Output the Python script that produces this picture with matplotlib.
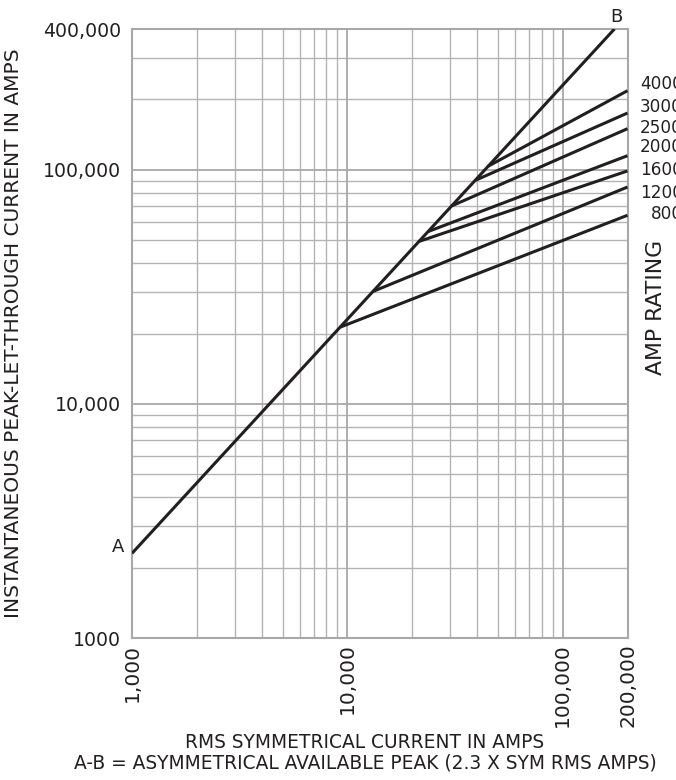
import matplotlib
matplotlib.use("Agg")
import matplotlib.pyplot as plt
import matplotlib.ticker as mticker
from matplotlib.transforms import blended_transform_factory, ScaledTranslation

plt.rcParams['font.family'] = ['DejaVu Sans']

# ---------------- data ----------------
asym_factor = 2.3                      # A-B line: peak = 2.3 x sym RMS
ab_rms = [1000, 174000]                # RMS range of the A-B line
amp_ratings = [800, 1200, 1600, 2000, 2500, 3000, 4000]
branch_rms = [9250, 13150, 21500, 23700, 30500, 39200, 45100]   # where each line leaves A-B
end_rms = 200000
end_peak = [64000, 84500, 99000, 115000, 150000, 175000, 218000]  # peak at 200,000 A RMS

x_ticks = [1000, 10000, 100000, 200000]
x_tick_labels = ["1,000", "10,000", "100,000", "200,000"]
y_ticks = [1000, 10000, 100000, 400000]
y_tick_labels = ["1000", "10,000", "100,000", "400,000"]
x_minor = [2000, 3000, 4000, 5000, 6000, 7000, 8000, 9000,
           20000, 30000, 40000, 50000, 60000, 70000, 80000, 90000]
y_minor = [2000, 3000, 4000, 5000, 6000, 7000, 8000, 9000,
           20000, 30000, 40000, 50000, 60000, 70000, 80000, 90000,
           200000, 300000]

# label layout (peak-axis positions of the staggered rating labels)
label_peak = [64900, 79700, 100000, 125400, 151000, 186000, 233000]

# ---------------- figure ----------------
W, H = 676, 780
fig = plt.figure(figsize=(W / 100, H / 100), dpi=100)
L, R, T, B = 132, 627.5, 29, 638
ax = fig.add_axes([L / W, 1 - B / H, (R - L) / W, (B - T) / H])
ax.set_xscale('log')
ax.set_yscale('log')
ax.set_xlim(1000, 200000)
ax.set_ylim(1000, 400000)

grid_c = '#b4b4b4'
for v in x_minor:
    ax.axvline(v, color=grid_c, lw=1.0, zorder=1)
for v in y_minor:
    ax.axhline(v, color=grid_c, lw=1.0, zorder=1)
for v in [10000, 100000]:
    ax.axvline(v, color='#a8a8a8', lw=1.3, zorder=1)
    ax.axhline(v, color='#a8a8a8', lw=1.3, zorder=1)

for s in ax.spines.values():
    s.set_color('#a8a8a8')
    s.set_linewidth(1.5)

txt_c = '#231f20'
line_c = '#231f20'
ab_peak = [asym_factor * v for v in ab_rms]
ax.plot(ab_rms, ab_peak, color=line_c, lw=2.2, solid_capstyle='butt', zorder=3)
for br, ep in zip(branch_rms, end_peak):
    ax.plot([br, end_rms], [asym_factor * br, ep], color=line_c, lw=2.2,
            solid_capstyle='butt', zorder=3)

ax.xaxis.set_major_locator(mticker.FixedLocator(x_ticks))
ax.xaxis.set_major_formatter(mticker.FixedFormatter(x_tick_labels))
ax.xaxis.set_minor_locator(mticker.NullLocator())
ax.yaxis.set_major_locator(mticker.FixedLocator(y_ticks))
ax.yaxis.set_major_formatter(mticker.FixedFormatter(y_tick_labels))
ax.yaxis.set_minor_locator(mticker.NullLocator())
ax.tick_params(axis='both', length=0, colors=txt_c)
ax.tick_params(axis='y', pad=8, labelsize=13.6)
ax.tick_params(axis='x', pad=4, labelrotation=90, labelsize=14.5)

ax.set_ylabel("INSTANTANEOUS PEAK-LET-THROUGH CURRENT IN AMPS", fontsize=14.5,
              color=txt_c)
ax.yaxis.set_label_coords((23 - L) / (R - L), 0.5)

fig.text(365 / W, 1 - 742 / H, "RMS SYMMETRICAL CURRENT IN AMPS", ha='center',
         va='center', fontsize=13.4, color=txt_c)
fig.text(365 / W, 1 - 763 / H, "A-B = ASYMMETRICAL AVAILABLE PEAK (2.3 X SYM RMS AMPS)",
         ha='center', va='center', fontsize=13.4, color=txt_c)
fig.text(656 / W, 1 - 307 / H, "AMP RATING", rotation=90, ha='center', va='center',
         fontsize=15.8, color=txt_c)

tr = blended_transform_factory(ax.transAxes, ax.transData)
for r, lp in zip(amp_ratings, label_peak):
    ax.text((683 - L) / (R - L), lp, str(r), transform=tr, ha='right', va='center',
            fontsize=12.2, color=txt_c, clip_on=False)

ax.text(ab_rms[0], ab_peak[0], "A", ha='right', va='bottom', fontsize=13,
        color=txt_c,
        transform=ax.transData + ScaledTranslation(-8/100, -3/100, fig.dpi_scale_trans))
ax.text(ab_rms[1], ab_peak[1], "B", ha='center', va='bottom', fontsize=13,
        color=txt_c, clip_on=False,
        transform=ax.transData + ScaledTranslation(2/100, 3/100, fig.dpi_scale_trans))

fig.savefig("out.png", dpi=100)
